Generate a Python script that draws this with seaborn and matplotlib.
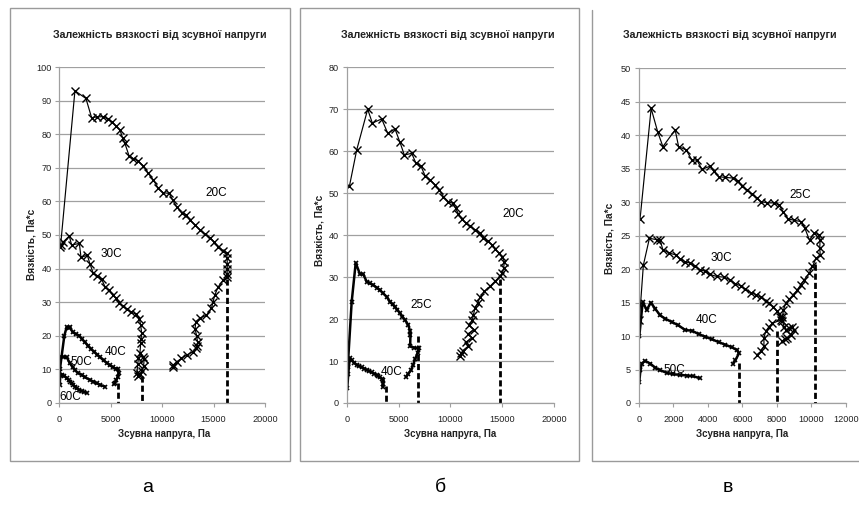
import numpy as np
import matplotlib
matplotlib.use('Agg')
import matplotlib.pyplot as plt
import seaborn as sns
from matplotlib.patches import Rectangle
from matplotlib.lines import Line2D

sns.set_theme(style='white')
plt.rcParams['font.family'] = ['Liberation Sans', 'DejaVu Sans']

# ---------- panel а ----------
a20_x = [130, 1520, 2590, 3140, 3700, 4280, 4700, 5090, 5500, 5900,
         6150, 6380, 6770, 7200, 7680, 8170, 8650, 9140, 9630, 10110,
         10700, 11020, 11410, 11890, 12320, 12700, 13190, 13680, 14160, 14650,
         15040, 15460, 15950, 16270, 16320, 16330, 16330, 16320, 16300, 15920,
         15440, 15120, 14950, 14790, 14310, 13660, 13270, 13200, 13350, 13450,
         13400, 13300, 13010, 12370, 11880, 11400, 11070, 11050]
a20_y = [47.0, 93.0, 90.7, 85.0, 85.2, 85.3, 84.6, 83.8, 82.5, 81.3,
         79.0, 77.3, 73.7, 72.8, 72.0, 70.6, 68.4, 66.4, 63.9, 62.6,
         62.4, 60.4, 58.4, 56.7, 56.0, 54.5, 53.0, 51.5, 50.3, 49.2,
         48.0, 46.5, 45.3, 44.5, 43.0, 41.5, 40.0, 38.5, 37.5, 36.5,
         34.5, 32.1, 30.1, 28.1, 26.1, 25.2, 24.2, 22.0, 20.0, 18.0,
         17.0, 16.3, 15.2, 14.2, 13.2, 12.2, 11.2, 10.7]

a30_x = [65, 400, 970, 1200, 1950, 2110, 2720, 2980, 3300, 3690,
         4120, 4440, 4830, 5190, 5510, 5830, 6160, 6550, 6940, 7450,
         7780, 7910, 8010, 7950, 7910, 7840, 7700, 7620, 7550, 7650,
         7800, 8050, 8200, 8250, 8150]
a30_y = [46.3, 48.0, 49.7, 47.0, 47.5, 43.3, 44.0, 41.4, 38.6, 37.9,
         36.8, 34.6, 33.6, 32.1, 31.1, 29.8, 28.8, 27.8, 27.1, 26.4,
         25.1, 23.2, 20.7, 19.0, 17.7, 14.7, 13.2, 11.5, 9.0, 8.0,
         8.5, 9.5, 11.0, 13.0, 13.5]

a40_x = [60, 490, 720, 900, 1040, 1300, 1600, 1940, 2200, 2500,
         2800, 3100, 3400, 3700, 4000, 4300, 4600, 4900, 5200, 5500,
         5730, 5760, 5700, 5550, 5400, 5350]
a40_y = [10.0, 20.0, 22.6, 22.4, 22.5, 21.0, 20.5, 20.0, 19.0, 18.0,
         17.0, 16.0, 15.2, 14.3, 13.5, 12.6, 11.9, 11.2, 10.6, 10.1,
         9.9, 8.8, 7.8, 6.8, 6.0, 5.7]

a50_x = [40, 60, 400, 710, 1040, 1300, 1520, 1800, 2170, 2500, 2980, 3300, 3630, 4000, 4440]
a50_y = [8.3, 13.7, 13.7, 13.6, 11.7, 10.6, 9.7, 8.9, 8.3, 7.6, 6.8, 6.3, 5.8, 5.3, 4.8]

a60_x = [40, 100, 300, 500, 710, 900, 1040, 1200, 1360, 1520, 1690, 1900, 2170, 2400, 2660]
a60_y = [5.3, 8.3, 8.3, 8.0, 7.3, 6.8, 6.3, 5.8, 5.3, 4.8, 4.3, 3.9, 3.5, 3.2, 3.0]

a_dash_x = [5670, 8040, 16330]
a_dash_top = [5.8, 8.0, 37.0]

a_lab = ['20C', '30C', '40C', '50C', '60C']
a_lab_x = [15300, 5090, 5510, 2170, 1040]
a_lab_y = [62.4, 44.3, 15.2, 12.2, 1.8]

# ---------- panel б ----------
b20_x = [257, 965, 2025, 2475, 3375, 3955, 4660, 5145, 5560, 6270,
         6655, 7170, 7555, 8040, 8520, 8940, 9320, 9805, 10220, 10510,
         10770, 11090, 11480, 11900, 12380, 12860, 13180, 13600, 14050, 14310,
         14690, 15010, 15210, 15140, 15010, 14790, 14310, 13820, 13280, 12860,
         12630, 12380, 12220, 12120, 11800, 12300, 11700, 12100, 11500, 11700,
         11200, 11030, 10930]
b20_y = [51.6, 60.3, 70.0, 66.7, 67.7, 64.3, 65.3, 62.1, 59.1, 59.5,
         57.3, 56.4, 54.2, 53.2, 52.0, 50.8, 49.2, 48.0, 47.6, 46.4,
         45.1, 43.8, 42.9, 42.1, 41.3, 40.5, 39.3, 38.5, 37.7, 36.7,
         35.7, 34.9, 33.7, 32.1, 31.0, 30.2, 29.0, 27.8, 26.6, 25.2,
         23.8, 22.6, 21.0, 19.7, 18.5, 17.5, 16.5, 15.5, 14.5, 13.5,
         12.5, 11.8, 11.1]

b25_x = [100, 480, 870, 1280, 1600, 1930, 2250, 2570, 2900, 3210,
         3530, 3860, 4180, 4420, 4660, 4900, 5140, 5380, 5620, 5940,
         6110, 6150, 6120, 6500, 6950, 6850, 6600, 6400, 6200, 5950, 5750]
b25_y = [8.6, 24.1, 33.4, 30.7, 30.7, 28.9, 28.5, 28.1, 27.5, 26.9,
         26.1, 25.3, 24.1, 23.5, 22.9, 22.2, 21.4, 20.6, 19.8, 18.6,
         17.2, 16.2, 13.5, 13.2, 13.0, 12.0, 10.5, 9.0, 7.8, 7.0, 6.3]

b40_x = [60, 150, 300, 480, 720, 960, 1200, 1450, 1700, 1930,
         2170, 2410, 2650, 2890, 3050, 3210, 3370, 3530, 3500, 3470]
b40_y = [3.6, 7.0, 10.8, 10.2, 9.6, 9.1, 8.8, 8.5, 8.2, 7.9,
         7.6, 7.3, 7.0, 6.7, 6.4, 6.1, 5.8, 5.5, 4.6, 3.9]

b_dash_x = [3800, 6850, 14790]
b_dash_top = [4.0, 16.0, 29.5]

b_lab = ['20C', '25C', '40C']
b_lab_x = [16075, 7230, 4340]
b_lab_y = [45.1, 23.4, 7.3]

# ---------- panel в ----------
c25_x = [78, 720, 1100, 1400, 2110, 2310, 2750, 3080, 3370, 3660,
         4150, 4340, 4630, 5020, 5470, 5740, 5990, 6280, 6570, 6830,
         7060, 7450, 7830, 8120, 8380, 8650, 9000, 9380, 9620, 9890,
         10160, 10450, 10500, 10480, 10510, 10260, 10060, 9870, 9580, 9380,
         9190, 8960, 8710, 8510, 8380, 8320, 8220, 7740, 7540, 7350,
         7250, 7250, 7060, 6830]
c25_y = [27.5, 44.0, 40.5, 38.3, 40.8, 38.3, 37.8, 36.3, 36.3, 34.9,
         35.4, 34.6, 33.8, 33.7, 33.6, 33.1, 32.4, 31.8, 31.2, 30.6,
         30.1, 29.9, 29.9, 29.6, 28.5, 27.5, 27.3, 27.1, 26.1, 24.3,
         25.4, 25.1, 24.4, 23.1, 22.1, 21.6, 20.4, 19.4, 18.4, 17.7,
         16.9, 16.2, 15.5, 14.9, 13.9, 12.9, 12.4, 11.9, 11.4, 10.7,
         9.7, 8.5, 7.7, 7.2]

c30_x = [40, 270, 620, 1050, 1240, 1400, 1780, 2170, 2400, 2690,
         2980, 3260, 3550, 3840, 4130, 4520, 4920, 5310, 5600, 5900,
         6180, 6480, 6770, 7060, 7350, 7540, 7800, 8000, 8180, 8320,
         8420, 8510, 8700, 8900, 9000, 8800, 8610, 8450, 8300]
c30_y = [12.4, 20.6, 24.6, 24.4, 24.3, 22.9, 22.4, 22.1, 21.5, 21.1,
         20.9, 20.4, 19.9, 19.7, 19.2, 18.9, 18.8, 18.4, 17.8, 17.5,
         17.0, 16.5, 16.2, 15.8, 15.3, 14.9, 14.4, 13.7, 12.9, 12.2,
         11.4, 10.9, 11.2, 11.4, 10.9, 10.2, 9.7, 9.6, 9.2]

c40_x = [35, 230, 465, 700, 950, 1240, 1530, 1920, 2300, 2690,
         3080, 3470, 3860, 4250, 4630, 5020, 5410, 5700, 5800, 5600, 5470]
c40_y = [10.0, 15.1, 13.9, 15.0, 14.1, 13.1, 12.6, 12.1, 11.6, 10.9,
         10.8, 10.3, 9.9, 9.5, 9.1, 8.7, 8.3, 7.9, 7.4, 6.4, 5.9]

c50_x = [35, 100, 175, 370, 660, 950, 1240, 1630, 2010, 2400, 2790, 3170, 3530]
c50_y = [3.2, 4.9, 5.9, 6.3, 5.9, 5.3, 4.9, 4.5, 4.3, 4.2, 4.1, 4.0, 3.7]

c_dash_x = [5800, 8000, 10200]
c_dash_top = [6.0, 10.7, 20.8]

c_lab = ['25C', '30C', '40C', '50C']
c_lab_x = [9340, 4760, 3940, 2070]
c_lab_y = [31.1, 21.6, 12.4, 5.0]

title = 'Залежність вязкості від зсувної напруги'
xlab = 'Зсувна напруга, Па'
ylab = 'Вязкість, Па*с'

W, H = 859, 507
fig = plt.figure(figsize=(W / 100, H / 100), dpi=100)
fig.patch.set_facecolor('white')

GRAY = '#a0a0a0'
TICKFONT = ['Liberation Sans Narrow', 'Liberation Sans', 'DejaVu Sans']


def px_axes(left, right, top, bottom):
    return fig.add_axes([left / W, (H - bottom) / H, (right - left) / W, (bottom - top) / H])


def style_axes(ax, xmax, xstep, ymax, ystep):
    ax.set_xlim(0, xmax)
    ax.set_ylim(0, ymax)
    ax.set_xticks(np.arange(0, xmax + 1, xstep))
    ax.set_yticks(np.arange(0, ymax + 0.1, ystep))
    ax.yaxis.grid(True, color=GRAY, lw=0.9)
    ax.xaxis.grid(False)
    ax.set_axisbelow(True)
    for s in ['top', 'right']:
        ax.spines[s].set_visible(False)
    for s in ['left', 'bottom']:
        ax.spines[s].set_color(GRAY)
        ax.spines[s].set_linewidth(0.9)
    ax.tick_params(axis='both', direction='out', colors=GRAY, labelcolor='#222222',
                   length=3, width=0.8, labelsize=6.6)
    ax.tick_params(axis='x', pad=6)
    ax.tick_params(axis='y', pad=2.5, left=True)
    ax.tick_params(axis='x', bottom=True)
    for lab in ax.get_xticklabels() + ax.get_yticklabels():
        lab.set_fontfamily(TICKFONT)
    ax.set_xlabel('')
    ax.set_ylabel('')


def curve(ax, x, y, big=True):
    if big:
        sns.lineplot(x=x, y=y, ax=ax, sort=False, estimator=None, color='black',
                     linewidth=0.85, marker='x', markersize=5.5, markeredgewidth=1.0,
                     markeredgecolor='black')
    else:
        sns.lineplot(x=x, y=y, ax=ax, sort=False, estimator=None, color='black',
                     linewidth=1.8, marker='x', markersize=3.2, markeredgewidth=1.2,
                     markeredgecolor='black')


def dashes(ax, xs, tops):
    for xv, tv in zip(xs, tops):
        ax.plot([xv, xv], [tv, 0], color='black', lw=2.0, ls=(0, (2.2, 1.1)),
                solid_capstyle='butt', clip_on=False)


def labels(ax, names, xs, ys):
    for n, xv, yv in zip(names, xs, ys):
        ax.text(xv, yv, n, fontsize=8.5, ha='center', va='center', color='black')


# panel а
ax1 = px_axes(59.3, 265.0, 67.3, 402.7)
curve(ax1, a20_x, a20_y)
curve(ax1, a30_x, a30_y)
curve(ax1, a40_x, a40_y, big=False)
curve(ax1, a50_x, a50_y, big=False)
curve(ax1, a60_x, a60_y, big=False)
dashes(ax1, a_dash_x, a_dash_top)
labels(ax1, a_lab, a_lab_x, a_lab_y)
style_axes(ax1, 20000, 5000, 100, 10)

# panel б
ax2 = px_axes(346.7, 554.0, 67.3, 403.0)
curve(ax2, b20_x, b20_y)
curve(ax2, b25_x, b25_y, big=False)
curve(ax2, b40_x, b40_y, big=False)
dashes(ax2, b_dash_x, b_dash_top)
labels(ax2, b_lab, b_lab_x, b_lab_y)
style_axes(ax2, 20000, 5000, 80, 10)

# panel в
ax3 = px_axes(638.7, 846.0, 68.3, 403.0)
curve(ax3, c25_x, c25_y)
curve(ax3, c30_x, c30_y)
curve(ax3, c40_x, c40_y, big=False)
curve(ax3, c50_x, c50_y, big=False)
dashes(ax3, c_dash_x, c_dash_top)
labels(ax3, c_lab, c_lab_x, c_lab_y)
style_axes(ax3, 12000, 2000, 50, 5)


def ftext(x, y, s, **kw):
    fig.text(x / W, 1 - y / H, s, ha='center', va='center', **kw)


# panel frames (the third one is cut by the image edge, no top line visible)
for x0, x1 in [(10, 290), (300, 579)]:
    fig.add_artist(Rectangle((x0 / W, 1 - 461 / H), (x1 - x0) / W, 453 / H,
                             transform=fig.transFigure, fill=False,
                             edgecolor='#9a9a9a', lw=1.0))
fig.add_artist(Line2D([592 / W, 592 / W, 1.0], [1 - 10 / H, 1 - 461 / H, 1 - 461 / H],
                      transform=fig.transFigure, color='#9a9a9a', lw=1.0))

for cx, tx, lx, ly, letter, lettx in [(164, 160, 31.7, 244, 'а', 148),
                                      (450, 448, 320, 230, 'б', 440),
                                      (742, 730, 610, 238, 'в', 728)]:
    ftext(tx, 35, title, fontsize=7.7, fontweight='bold', color='#222222')
    ftext(cx, 434, xlab, fontsize=7.0, fontweight='bold', color='#222222')
    ftext(lx, ly, ylab, fontsize=7.3, fontweight='bold', color='#222222', rotation=90)
    ftext(lettx, 487, letter, fontsize=14, color='black')

fig.savefig('out.png', dpi=100, facecolor='white')
